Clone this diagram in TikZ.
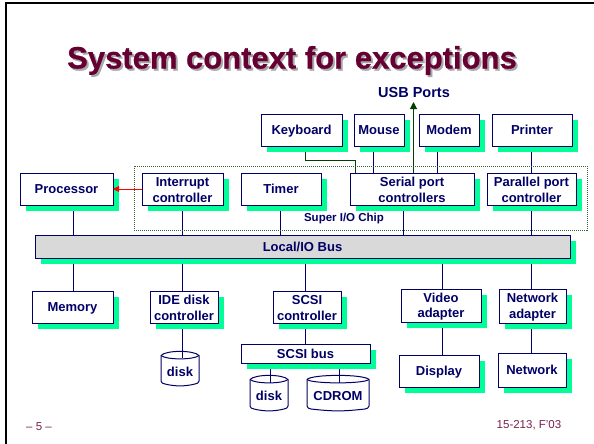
\documentclass[tikz,border=0pt]{standalone}
\usepackage{fontspec}
\setmainfont{Liberation Sans}
\usetikzlibrary{shadows,backgrounds,arrows.meta}
\definecolor{navy}{HTML}{000066}
\definecolor{mint}{HTML}{00FF99}
\definecolor{maroon}{HTML}{660033}
\definecolor{titleshade}{HTML}{A8A8A8}
\definecolor{footc}{HTML}{7A1F4F}
\definecolor{busgrey}{HTML}{D9D9D9}
\definecolor{usbgreen}{HTML}{003F00}
\newcommand{\lowr}{\rule{0pt}{11.5pt}}
\tikzset{
  unit/.style={draw=navy,line width=1pt,fill=white,inner sep=0pt,outer sep=0pt,align=center,
    text=navy,font=\fontsize{13}{15.6}\selectfont\bfseries,
    copy shadow={shadow xshift=5.5pt,shadow yshift=-5.5pt,draw=none,fill=mint}},
  wire/.style={draw=navy,line width=1pt},
  greenwire/.style={draw=usbgreen,line width=1pt},
  cyltext/.style={text=navy,font=\fontsize{13}{15.6}\selectfont\bfseries,inner sep=0pt},
  cylline/.style={draw=navy,line width=1pt,line join=round},
  foot/.style={text=footc,font=\fontsize{11.5}{13}\selectfont,inner sep=0pt},
  ttl/.style={font=\fontsize{31}{36}\selectfont\bfseries\addfontfeature{FakeBold=0.6},inner sep=0pt}
}
% name, x0, y0, x1, y1, text
\newcommand{\unitbox}[6]{\node[unit,minimum width={(#4-#2)*1pt},minimum height={(#5-#3)*1pt}] (#1) at ({(#2+#4)/2},{(#3+#5)/2}) {#6};}
% name, x0, y0, x1, y1, text
\newcommand{\drum}[6]{%
  \draw[cylline] (#2,#3+4.5) .. controls (#2+5,#3-1) and (#4-5,#3-1) .. (#4,#3+4.5)
    -- (#4,#5-5) .. controls (#4,#5-3) and (#4-2,#5-2.5) .. (#4-4,#5-2)
    .. controls ({(#2+#4)/2+5},#5+0.5) and ({(#2+#4)/2-5},#5+0.5) .. (#2+4,#5-2)
    .. controls (#2+2,#5-2.5) and (#2,#5-3) .. (#2,#5-5) -- cycle;
  \draw[cylline] (#2,#3+4.5) .. controls (#2+5,#3+9) and (#4-5,#3+9) .. (#4,#3+4.5);
  \node[cyltext] (#1) at ({(#2+#4)/2},{(#3+#5)/2+3}) {#6};}
\begin{document}
\begin{tikzpicture}[x=1pt,y=-1pt]
\useasboundingbox (0,0) rectangle (594,444);
\draw[black,line width=2pt] (6,444) -- (6,3.5) -- (594,3.5);
\node[ttl,text=titleshade] at (294,62.5) {System context for exceptions};
\node[ttl,text=maroon] (title) at (292,60.5) {System context for exceptions};
\node[text=navy,inner sep=0pt,font=\fontsize{14.5}{16}\selectfont\bfseries] (usb) at (414,92.5) {USB Ports};
\draw[usbgreen!80!white,line width=1pt,dash pattern=on 1pt off 1pt] (134,166) rectangle (587,230);
\node[text=navy,inner sep=0pt,font=\fontsize{11.5}{13}\selectfont\bfseries] (sio) at (344,219) {Super I/O Chip};

\unitbox{kbd}{261}{114}{342}{146}{\lowr Keyboard}
\unitbox{mouse}{354}{114}{404}{146}{Mouse}
\unitbox{modem}{419}{114}{479}{146}{Modem}
\unitbox{printer}{492}{114}{572}{146}{Printer}
\unitbox{proc}{20}{173}{113}{205}{Processor}
\unitbox{intr}{142}{173}{223}{205}{\lowr Interrupt\\controller}
\unitbox{timer}{241}{173}{321}{205}{Timer}
\unitbox{serial}{350}{173}{474}{205}{\lowr Serial port\\controllers}
\unitbox{par}{487}{173}{576}{205}{\lowr Parallel port\\controller}
\node[unit,fill=busgrey,minimum width=535pt,minimum height=23pt] (bus) at (302.5,246.5) {Local/IO Bus};
\unitbox{mem}{32}{291}{113}{323}{\lowr Memory}
\unitbox{ide}{150}{291}{218}{323}{\lowr IDE disk\\controller}
\unitbox{scsi}{273}{291}{341}{323}{\lowr SCSI\\controller}
\unitbox{video}{401}{289}{481}{322}{\lowr Video\\adapter}
\unitbox{netad}{499}{289}{566}{323}{\lowr Network\\adapter}
\unitbox{disp}{399}{355}{479}{387}{\lowr Display}
\unitbox{net}{498}{353}{566}{387}{Network}
\node[unit,minimum width=129pt,minimum height=19pt] (sbus) at (305.5,353.5) {SCSI bus};
\drum{disk}{161}{351}{199}{386}{disk}
\drum{diskb}{250}{375}{288}{411}{disk}
\drum{cd}{307}{375}{369}{411}{CDROM}
\coordinate (diskin) at (182.5,358);
\coordinate (diskbin) at (270.5,383);
\coordinate (cdin) at (339.5,383);
\coordinate (usbtip) at (413.5,102);

\node[foot] (pg) at (39,427) {– 5 –};
\node[foot] (crs) at (529,425) {15-213, F'03};

\begin{pgfonlayer}{background}
\draw[wire] (proc.south -| 73.5,0) -- (bus.north -| 73.5,0);
\draw[wire] (intr.south -| 182.5,0) -- (bus.north -| 182.5,0);
\draw[wire] (timer.south -| 280.5,0) -- (bus.north -| 280.5,0);
\draw[wire] (serial.south -| 403.5,0) -- (bus.north -| 403.5,0);
\draw[wire] (par.south -| 531.5,0) -- (bus.north -| 531.5,0);
\draw[wire] (mem.north -| 73.5,0) -- (bus.south -| 73.5,0);
\draw[wire] (ide.north -| 182.5,0) -- (bus.south -| 182.5,0);
\draw[wire] (scsi.north -| 305.5,0) -- (bus.south -| 305.5,0);
\draw[wire] (video.north -| 442.5,0) -- (bus.south -| 442.5,0);
\draw[wire] (netad.north -| 531.5,0) -- (bus.south -| 531.5,0);
\draw[wire] (mouse.south -| 373.5,0) -- (serial.north -| 373.5,0);
\draw[wire] (modem.south -| 437.5,0) -- (serial.north -| 437.5,0);
\draw[wire] (printer.south -| 531.5,0) -- (par.north -| 531.5,0);
\draw[wire] (video.south -| 442.5,0) -- (disp.north -| 442.5,0);
\draw[wire] (netad.south -| 531.5,0) -- (net.north -| 531.5,0);
\draw[wire] (ide.south -| 182.5,0) -- (diskin);
\draw[wire] (scsi.south -| 305.5,0) -- (sbus.north -| 305.5,0);
\draw[wire] (sbus.south -| 270.5,0) -- (diskbin);
\draw[wire] (sbus.south -| 339.5,0) -- (cdin);
\draw[greenwire] (kbd.south -| 305.5,0) -- (305.5,160.5) -- (355.5,160.5) -- (serial.north -| 355.5,0);
\draw[greenwire,-{Triangle[length=7pt,width=7pt]}] (serial.north -| 413.5,0) -- (usbtip);
\end{pgfonlayer}
\draw[red,line width=1pt,-{Triangle[length=6pt,width=6pt]}] (intr.west) -- (proc.east);
\end{tikzpicture}
\end{document}
